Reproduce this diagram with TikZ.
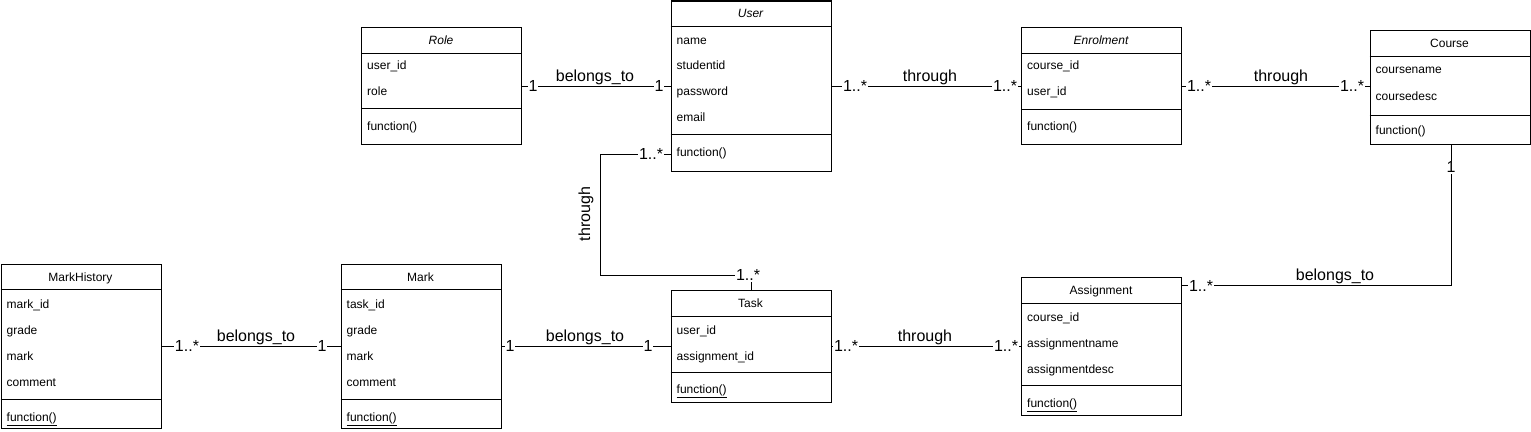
\documentclass[tikz,border=0pt]{standalone}
\usepackage{fontspec}
\setmainfont{Liberation Sans}
\begin{document}
\begin{tikzpicture}[x=1pt,y=-1pt,
  cls/.style={draw, line width=1pt, minimum width=160pt, anchor=north west, inner sep=0pt},
  attr/.style={anchor=base west, inner sep=0pt, font=\fontsize{12}{14}\selectfont},
  ttl/.style={anchor=base, inner sep=0pt, font=\fontsize{12}{14}\selectfont},
  ittl/.style={anchor=base, inner sep=0pt, font=\fontsize{12}{14}\selectfont\itshape},
  mult/.style={anchor=base, fill=white, inner sep=1pt, font=\fontsize{16}{19}\selectfont},
  rel/.style={anchor=base, inner sep=0pt, font=\fontsize{16}{19}\selectfont},
  conn/.style={draw, line width=1pt},
  sepline/.style={line width=1pt}]
\fill[white] (0,0) rectangle (1531,431);
\path[use as bounding box] (0,0) rectangle (1531,431);

% ---------- Role ----------
\node[cls, minimum height=117pt] (role) at (361,27) {};
\node[ittl] (roleT) at (441,44.3) {Role};
\draw[sepline] (361,53) -- (521,53);
\draw[sepline] (361,108.5) -- (521,108.5);
\node[attr] (roleA1) at (367,69) {user\_id};
\node[attr] (roleA2) at (367,95) {role};
\node[attr] (roleM) at (367,130) {function()};

% ---------- User ----------
\node[cls, minimum height=170pt] (user) at (670.5,0.5) {};
\node[ittl] (userT) at (750.5,17.5) {User};
\draw[sepline] (670.5,26) -- (830.5,26);
\draw[sepline] (670.5,134.5) -- (830.5,134.5);
\node[attr] (userA1) at (676.5,44) {name};
\node[attr] (userA2) at (676.5,69.5) {studentid};
\node[attr] (userA3) at (676.5,95.5) {password};
\node[attr] (userA4) at (676.5,121) {email};
\node[attr] (userM) at (676.5,156) {function()};

% ---------- Enrolment ----------
\node[cls, minimum height=117pt] (enrol) at (1021,27) {};
\node[ittl] (enrolT) at (1101,44.3) {Enrolment};
\draw[sepline] (1021,53) -- (1181,53);
\draw[sepline] (1021,109) -- (1181,109);
\node[attr] (enrolA1) at (1027,69) {course\_id};
\node[attr] (enrolA2) at (1027,95) {user\_id};
\node[attr] (enrolM) at (1027,130) {function()};

% ---------- Course ----------
\node[cls, minimum height=114pt] (course) at (1369.5,30) {};
\node[ttl] (courseT) at (1449.5,47) {Course};
\draw[sepline] (1369.5,56) -- (1529.5,56);
\draw[sepline] (1369.5,115.5) -- (1529.5,115.5);
\node[attr] (courseA1) at (1375.5,73.5) {coursename};
\node[attr] (courseA2) at (1375.5,100) {coursedesc};
\node[attr] (courseM) at (1375.5,134) {function()};

% ---------- MarkHistory ----------
\node[cls, minimum height=164pt] (mh) at (0.5,264) {};
\node[ttl] (mhT) at (80.5,281) {MarkHistory};
\draw[sepline] (0.5,289.5) -- (160.5,289.5);
\draw[sepline] (0.5,399) -- (160.5,399);
\node[attr] (mhA1) at (6.5,308) {mark\_id};
\node[attr] (mhA2) at (6.5,334) {grade};
\node[attr] (mhA3) at (6.5,360) {mark};
\node[attr] (mhA4) at (6.5,386) {comment};
\node[attr] (mhM) at (6.5,421) {\underline{function()}};

% ---------- Mark ----------
\node[cls, minimum height=164pt] (mark) at (340.5,264) {};
\node[ttl] (markT) at (420.5,281) {Mark};
\draw[sepline] (340.5,289.5) -- (500.5,289.5);
\draw[sepline] (340.5,399) -- (500.5,399);
\node[attr] (markA1) at (346.5,308) {task\_id};
\node[attr] (markA2) at (346.5,334) {grade};
\node[attr] (markA3) at (346.5,360) {mark};
\node[attr] (markA4) at (346.5,386) {comment};
\node[attr] (markM) at (346.5,421) {\underline{function()}};

% ---------- Task ----------
\node[cls, minimum height=112pt] (task) at (670.5,290) {};
\node[ttl] (taskT) at (750.5,307) {Task};
\draw[sepline] (670.5,316) -- (830.5,316);
\draw[sepline] (670.5,372) -- (830.5,372);
\node[attr] (taskA1) at (676.5,334) {user\_id};
\node[attr] (taskA2) at (676.5,360) {assignment\_id};
\node[attr] (taskM) at (676.5,393.5) {\underline{function()}};

% ---------- Assignment ----------
\node[cls, minimum height=138pt] (assign) at (1021,277) {};
\node[ttl] (assignT) at (1101,294) {Assignment};
\draw[sepline] (1021,303) -- (1181,303);
\draw[sepline] (1021,385) -- (1181,385);
\node[attr] (assignA1) at (1027,321) {course\_id};
\node[attr] (assignA2) at (1027,347) {assignmentname};
\node[attr] (assignA3) at (1027,373) {assignmentdesc};
\node[attr] (assignM) at (1027,407) {\underline{function()}};

% ---------- Connectors ----------
% Role - User
\draw[conn] (role.east) -- (role.east -| user.west);
\node[mult] (m1a) at (533,91.2) {1};
\node[rel] (r1) at (595,81) {belongs\_to};
\node[mult] (m1b) at (659,91.2) {1};

% User - Enrolment
\draw[conn] (user.east) -- (user.east -| enrol.west);
\node[mult] (m2a) at (855,91.2) {1..*};
\node[rel] (r2) at (930,81) {through};
\node[mult] (m2b) at (1005,91.2) {1..*};

% Enrolment - Course
\draw[conn] (enrol.east) -- (enrol.east -| course.west);
\node[mult] (m3a) at (1199,91.2) {1..*};
\node[rel] (r3) at (1281,81) {through};
\node[mult] (m3b) at (1352,91.2) {1..*};

% Course - Assignment
\coordinate (caTurn) at (1451,285.5);
\draw[conn] (course.south -| caTurn) -- (caTurn) -- (caTurn -| assign.east);
\node[mult] (m4a) at (1451,172.7) {1};
\node[rel] (r4) at (1335,280.5) {belongs\_to};
\node[mult] (m4b) at (1201,291.2) {1..*};

% User - Task
\coordinate (utA) at (600,154);
\coordinate (utB) at (600,275);
\draw[conn] (user.west |- utA) -- (utA) -- (utB) -| (task.north);
\node[mult] (m5a) at (651,159.7) {1..*};
\node[rel, rotate=90, anchor=center] (r5) at (586,214) {through};
\node[mult] (m5b) at (748,280.7) {1..*};

% Task - Assignment
\draw[conn] (task.east) -- (task.east -| assign.west);
\node[mult] (m6a) at (846,351.7) {1..*};
\node[rel] (r6) at (925,341) {through};
\node[mult] (m6b) at (1006,351.7) {1..*};

% Mark - Task
\draw[conn] (mark.east) -- (mark.east -| task.west);
\node[mult] (m7a) at (510,351.7) {1};
\node[rel] (r7) at (585,341) {belongs\_to};
\node[mult] (m7b) at (648,351.7) {1};

% MarkHistory - Mark
\draw[conn] (mh.east) -- (mh.east -| mark.west);
\node[mult] (m8a) at (187,351.7) {1..*};
\node[rel] (r8) at (256,341) {belongs\_to};
\node[mult] (m8b) at (322,351.7) {1};
\end{tikzpicture}
\end{document}
